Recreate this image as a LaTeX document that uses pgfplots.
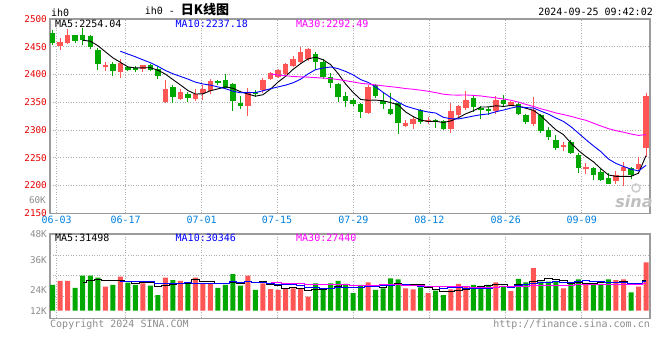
\documentclass[border=0pt]{standalone}
\usepackage{pgfplots}
\pgfplotsset{compat=1.18}
\usepackage{pgfplotstable}
\usepackage{fontspec}
\setmonofont{DejaVu Sans Mono}
\newfontfamily\cjk{Noto Sans CJK SC}
\newfontfamily\sinafont{DejaVu Sans}
\definecolor{cred}{RGB}{255,85,85}
\definecolor{cgreen}{RGB}{0,168,0}
\definecolor{axred}{RGB}{230,0,0}
\definecolor{dateblue}{RGB}{0,128,224}
\definecolor{gridc}{RGB}{175,175,175}
\definecolor{border}{RGB}{155,155,155}
\definecolor{lbl}{RGB}{140,140,140}
\definecolor{maten}{RGB}{0,0,255}
\definecolor{mathirty}{RGB}{255,0,255}

\pgfplotstableread{
x o h l c
1 2451.1 2465.5 2443.4 2458.3
2 2457.2 2481.1 2455.4 2471.6
7 2413.4 2422.4 2406.2 2416.4
9 2404.4 2428.5 2394.4 2420.6
12 2410.5 2418.0 2405.0 2416.5
15 2350.5 2389.5 2349.4 2373.3
17 2356.6 2374.0 2354.0 2368.5
19 2355.4 2374.0 2353.0 2365.6
20 2366.7 2380.5 2355.0 2374.6
21 2369.7 2392.5 2365.6 2387.7
26 2343.3 2376.4 2325.4 2366.7
28 2372.8 2394.4 2366.7 2389.5
29 2391.3 2404.4 2389.5 2402.6
30 2395.6 2410.4 2394.0 2407.5
31 2401.5 2420.0 2399.0 2418.3
32 2414.7 2434.2 2413.0 2428.5
33 2422.4 2449.3 2419.5 2440.4
34 2427.2 2448.0 2424.0 2446.5
42 2330.8 2380.5 2329.7 2377.5
47 2307.4 2318.9 2305.6 2312.8
48 2311.7 2324.8 2302.7 2319.4
50 2314.6 2323.6 2311.7 2317.6
53 2301.5 2348.7 2294.8 2333.8
54 2326.6 2344.6 2323.6 2342.8
55 2339.7 2370.3 2335.6 2353.6
59 2334.4 2360.8 2329.7 2353.6
61 2344.6 2352.3 2342.8 2350.5
64 2311.7 2359.5 2307.4 2335.6
68 2269.7 2278.7 2262.5 2272.2
71 2230.2 2239.9 2220.0 2232.7
75 2208.6 2226.6 2202.7 2218.8
76 2226.6 2242.7 2199.0 2232.7
78 2229.1 2250.6 2226.6 2238.6
79 2266.8 2366.7 2251.7 2360.8
}\redK

\pgfplotstableread{
x o h l c
0 2475.2 2479.3 2453.6 2457.2
3 2470.4 2471.5 2457.0 2460.1
4 2470.4 2483.5 2453.6 2461.4
5 2468.6 2470.4 2445.2 2449.3
6 2443.4 2447.5 2408.7 2418.3
8 2419.5 2422.4 2397.2 2405.7
10 2412.9 2415.5 2406.0 2408.0
11 2412.0 2416.0 2404.0 2409.0
13 2416.5 2418.6 2406.0 2408.0
14 2410.5 2415.5 2392.0 2397.2
16 2377.5 2381.7 2349.0 2359.5
18 2365.6 2368.5 2350.0 2357.7
22 2387.7 2391.0 2380.5 2384.7
23 2389.5 2401.5 2374.6 2376.4
24 2382.3 2384.7 2334.4 2352.3
25 2348.7 2360.8 2338.7 2344.0
27 2368.5 2372.8 2360.0 2365.6
35 2436.2 2440.5 2410.0 2422.4
36 2422.4 2428.0 2392.5 2395.4
37 2395.4 2402.6 2376.4 2384.7
38 2383.6 2384.7 2350.5 2359.5
39 2360.8 2368.5 2341.5 2352.3
40 2353.6 2358.4 2343.3 2346.4
41 2346.4 2348.7 2322.5 2332.5
43 2380.5 2382.3 2358.4 2360.8
44 2352.3 2366.7 2338.7 2346.4
45 2338.7 2366.7 2326.6 2329.7
46 2348.7 2350.5 2293.7 2312.8
49 2335.6 2338.7 2311.7 2314.6
51 2318.9 2320.7 2303.8 2314.6
52 2316.4 2318.9 2299.7 2301.5
56 2358.4 2360.8 2332.5 2341.5
57 2339.7 2342.8 2320.7 2335.6
58 2338.7 2341.5 2326.6 2334.4
60 2354.8 2362.6 2342.8 2347.6
62 2347.6 2350.5 2326.6 2329.7
63 2326.6 2329.7 2311.7 2314.6
65 2326.6 2329.7 2294.8 2297.9
66 2300.9 2305.6 2281.8 2286.6
67 2281.8 2290.7 2263.7 2266.8
69 2278.7 2281.8 2256.6 2258.9
70 2254.8 2258.9 2223.0 2230.9
72 2230.9 2232.7 2209.8 2218.8
73 2224.8 2229.1 2208.6 2209.8
74 2212.9 2221.9 2202.7 2202.7
77 2230.9 2233.7 2211.0 2218.8
}\greenK

\pgfplotstableread{
x m5 m10 m30
0 nan nan nan
1 nan nan nan
2 nan nan nan
3 nan nan nan
4 2461.7 nan nan
5 2460.1 nan nan
6 2452.1 nan nan
7 2441.1 nan nan
8 2430.2 nan nan
9 2422.1 2441.9 nan
10 2413.8 2437.0 nan
11 2411.9 2432.0 nan
12 2412.0 2426.5 nan
13 2412.4 2421.3 nan
14 2407.7 2414.9 nan
15 2400.8 2407.3 nan
16 2390.9 2401.4 nan
17 2381.3 2396.6 nan
18 2371.2 2391.8 nan
19 2364.9 2386.3 nan
20 2365.2 2383.0 nan
21 2370.8 2380.9 nan
22 2374.1 2377.7 nan
23 2377.8 2374.5 nan
24 2375.1 2370.0 nan
25 2369.0 2367.1 nan
26 2364.8 2367.8 nan
27 2361.0 2367.5 nan
28 2363.6 2370.7 nan
29 2373.7 2374.4 2400.9
30 2386.4 2377.7 2399.2
31 2396.7 2380.8 2397.9
32 2409.3 2385.1 2396.4
33 2419.5 2391.5 2395.8
34 2428.2 2401.0 2395.3
35 2431.2 2408.8 2394.4
36 2426.6 2411.7 2393.6
37 2417.9 2413.6 2392.6
38 2401.7 2410.6 2391.0
39 2382.9 2405.6 2388.8
40 2367.7 2399.4 2386.7
41 2355.1 2390.9 2384.2
42 2353.6 2385.8 2382.9
43 2353.9 2377.8 2381.3
44 2352.7 2367.8 2379.6
45 2349.4 2358.5 2378.1
46 2345.4 2350.3 2376.6
47 2332.5 2343.1 2374.7
48 2324.2 2339.1 2373.5
49 2317.9 2335.3 2371.8
50 2315.4 2332.4 2369.8
51 2315.8 2330.6 2367.4
52 2313.5 2323.0 2364.6
53 2316.4 2320.3 2363.2
54 2322.1 2320.0 2362.9
55 2329.3 2322.4 2363.2
56 2334.6 2325.2 2362.4
57 2341.5 2327.5 2361.4
58 2341.6 2329.0 2359.6
59 2343.7 2332.9 2357.9
60 2342.5 2335.9 2355.9
61 2344.3 2339.5 2353.7
62 2343.2 2342.3 2350.4
63 2339.2 2340.4 2346.2
64 2335.6 2339.7 2342.5
65 2325.7 2334.1 2338.3
66 2312.9 2328.6 2334.7
67 2300.3 2321.7 2330.8
68 2291.8 2315.5 2327.9
69 2276.5 2306.0 2324.7
70 2263.1 2294.4 2320.9
71 2252.3 2282.6 2317.6
72 2242.7 2271.5 2312.3
73 2230.2 2261.0 2307.2
74 2219.0 2247.7 2302.5
75 2216.6 2239.8 2298.8
76 2216.6 2234.4 2296.1
77 2216.6 2229.6 2292.9
78 2222.3 2226.3 2290.3
79 2253.9 2236.5 2291.8
}\priceMA

\pgfplotstableread{
x v
1 31.3
2 31.3
7 25.3
9 35.8
12 28.8
15 34.7
17 31.3
19 34.7
20 28.1
21 28.1
26 36.8
28 28.8
29 22.8
30 21.8
31 23.6
32 23.6
33 22.8
34 14.7
42 29.9
47 23.6
48 22.5
50 18.6
53 22.5
54 28.1
55 25.3
59 29.9
61 20.7
64 44.9
68 23.6
71 28.8
75 32.3
76 33.0
78 25.3
79 50.9
}\redV

\pgfplotstableread{
x v
0 27.1
3 23.9
4 36.8
5 36.8
6 34.7
8 27.1
10 29.5
11 27.1
13 26.3
14 16.5
16 32.3
18 29.5
22 23.9
23 27.1
24 38.6
25 26.3
27 21.8
35 28.8
36 23.6
37 28.8
38 31.3
39 28.1
40 18.6
41 27.1
43 21.8
44 23.6
45 34.1
46 33.0
49 24.6
51 21.1
52 16.5
56 27.1
57 26.0
58 27.1
60 26.0
62 33.4
63 29.9
65 30.5
66 30.5
67 30.5
69 28.8
70 33.0
72 28.1
73 28.1
74 33.0
77 19.3
}\greenV

\pgfplotstableread{
x m5 m10 m30
0 nan nan nan
1 nan nan nan
2 nan nan nan
3 nan nan nan
4 30.1 nan nan
5 32.0 nan nan
6 32.7 nan nan
7 31.5 nan nan
8 32.1 nan nan
9 31.9 31.0 nan
10 30.5 31.3 nan
11 29.0 30.8 nan
12 29.7 30.6 nan
13 29.5 30.8 nan
14 25.6 28.8 nan
15 26.7 28.6 nan
16 27.7 28.3 nan
17 28.2 28.9 nan
18 28.9 29.2 nan
19 32.5 29.1 nan
20 31.2 28.9 nan
21 30.3 29.0 nan
22 28.9 28.5 nan
23 28.4 28.6 nan
24 29.2 30.8 nan
25 28.8 30.0 nan
26 30.5 30.4 nan
27 30.1 29.5 nan
28 30.5 29.4 nan
29 27.3 28.2 29.4
30 26.4 27.6 29.3
31 23.8 27.2 29.0
32 24.1 27.1 28.7
33 22.9 26.7 28.7
34 21.3 24.3 28.0
35 22.7 24.6 27.7
36 22.7 23.2 27.3
37 23.7 23.9 27.4
38 25.4 24.2 27.6
39 28.1 24.7 27.3
40 26.1 24.4 27.0
41 26.8 24.7 27.0
42 27.0 25.4 27.0
43 25.1 25.3 26.9
44 24.2 26.2 27.1
45 27.3 26.7 27.1
46 28.5 27.6 27.1
47 27.2 27.1 26.8
48 27.4 26.2 26.6
49 27.6 25.9 26.3
50 24.5 25.9 26.0
51 22.1 25.3 25.7
52 20.7 23.9 25.5
53 20.7 24.0 25.3
54 21.4 24.5 25.0
55 22.7 23.6 25.0
56 23.9 23.0 24.6
57 25.8 23.2 24.7
58 26.7 23.7 24.7
59 27.1 24.2 24.9
60 27.2 25.0 25.1
61 25.9 24.9 25.0
62 27.4 26.6 25.3
63 28.0 27.4 25.6
64 31.0 29.0 26.6
65 31.9 29.6 26.6
66 33.8 29.9 26.8
67 33.3 30.3 26.9
68 32.0 30.0 26.6
69 28.8 29.9 26.7
70 29.3 30.6 27.2
71 28.9 31.4 27.2
72 28.5 30.9 27.1
73 29.4 30.7 27.4
74 30.2 29.5 27.7
75 30.1 29.7 27.6
76 30.9 29.9 27.6
77 29.1 28.8 27.4
78 28.6 29.0 27.6
79 32.2 31.2 28.4
}\volMA

\pgfplotsset{
  sinaaxis/.style={
    scale only axis, width=600pt,
    xmin=-0.36, xmax=79.53,
    axis line style={draw=border, line width=1.1pt},
    tick style={draw=none},
    xtick={0.53,9.72,19.84,29.87,40.03,50.15,60.32,70.44},
    xmajorgrids,
    grid style={draw=gridc, line width=0.9pt, dash pattern=on 1pt off 1.6pt},
    unbounded coords=jump,
  },
  wick/.style={draw=none, mark=none, forget plot,
    error bars/.cd, y dir=plus, y explicit, error mark=none,
    error bar style={draw=#1, solid, line width=1pt}},
  body/.style={draw=none, mark=none, forget plot,
    error bars/.cd, y dir=plus, y explicit, error mark=none,
    error bar style={draw=#1, solid, line width=5.5pt}},
}

\begin{document}
\begin{tikzpicture}
\path[use as bounding box] (0,0) rectangle (660pt,360pt);

\begin{axis}[sinaaxis,
  at={(50pt,146.7pt)}, anchor=south west, height=194.3pt,
  ymin=2150, ymax=2500,
  xticklabels={06-03,06-17,07-01,07-15,07-29,08-12,08-26,09-09},
  xticklabel style={font=\ttfamily\fontsize{10}{11}\selectfont, text=dateblue, inner sep=2.5pt},
  ytick={2150,2200,2250,2300,2350,2400,2450,2500},
  yticklabels={2150,2200,2250,2300,2350,2400,2450,2500},
  yticklabel style={font=\ttfamily\fontsize{9.3}{11}\selectfont, text=axred, inner sep=3pt},
  ymajorgrids,
]
\addplot[wick=cgreen] table[x=x, y=l, y error plus expr=\thisrow{h}-\thisrow{l}] {\greenK};
\addplot[body=cgreen] table[x=x, y=c, y error plus expr=\thisrow{o}-\thisrow{c}] {\greenK};
\addplot[wick=cred] table[x=x, y=l, y error plus expr=\thisrow{h}-\thisrow{l}] {\redK};
\addplot[body=cred] table[x=x, y=o, y error plus expr=\thisrow{c}-\thisrow{o}] {\redK};
\addplot[black, line width=0.9pt, mark=none] table[x=x, y=m5] {\priceMA};
\addplot[maten, line width=0.9pt, mark=none] table[x=x, y=m10] {\priceMA};
\addplot[mathirty, line width=0.9pt, mark=none] table[x=x, y=m30] {\priceMA};
\end{axis}

\begin{axis}[sinaaxis,
  at={(50pt,41.7pt)}, anchor=south west, height=84.3pt,
  ymin=-8, ymax=80.7,
  xticklabels={},
  ytick={-0.3,21.8,53.4,80.7},
  yticklabels={12K,24K,36K,48K},
  yticklabel style={font=\ttfamily\fontsize{9.3}{11}\selectfont, text=lbl, inner sep=3pt},
  extra y ticks={15.5,36.8,58.1},
  extra y tick labels={},
  extra y tick style={ymajorgrids=true},
]
\addplot[ybar, bar width=5pt, bar shift=0pt, fill=cred, draw=none] table[x=x, y=v] {\redV};
\addplot[ybar, bar width=5pt, bar shift=0pt, fill=cgreen, draw=none] table[x=x, y=v] {\greenV};
\addplot[const plot mark mid, black, line width=0.9pt, mark=none] table[x=x, y=m5] {\volMA};
\addplot[const plot mark mid, maten, line width=0.9pt, mark=none] table[x=x, y=m10] {\volMA};
\addplot[const plot mark mid, mathirty, line width=0.9pt, mark=none] table[x=x, y=m30] {\volMA};
\end{axis}

% texts
\begin{scope}[font=\ttfamily\fontsize{10}{11}\selectfont, inner sep=0pt]
\node[anchor=west] at (51pt,347.7pt) {ih0};
\node at (187pt,350pt) {ih0 - {\cjk\bfseries\fontsize{13}{13}\selectfont 日K线图}};
\node[anchor=east] at (653pt,348.3pt) {2024-09-25 09:42:02};
\node[anchor=east, text=lbl, font=\ttfamily\fontsize{9.3}{11}\selectfont] at (46pt,160pt) {60K};
\node[anchor=west] at (55pt,336pt) {MA5:2254.04};
\node[anchor=west, text=maten] at (175.5pt,336pt) {MA10:2237.18};
\node[anchor=west, text=mathirty] at (296pt,336pt) {MA30:2292.49};
\node[anchor=west] at (55pt,122pt) {MA5:31498};
\node[anchor=west, text=maten] at (175.5pt,122pt) {MA10:30346};
\node[anchor=west, text=mathirty] at (296pt,122pt) {MA30:27440};
\node[anchor=west, text=lbl] at (50pt,35pt) {Copyright 2024 SINA.COM};
\node[anchor=east, text=lbl] at (650pt,35pt) {http://finance.sina.com.cn};
\end{scope}
\node[text=black!25, font=\sinafont\bfseries\itshape\fontsize{16}{16}\selectfont] at (634pt,158pt) {sina};
\draw[black!20, line width=1.5pt] (636pt,172pt) circle (4pt);
\end{tikzpicture}
\end{document}
